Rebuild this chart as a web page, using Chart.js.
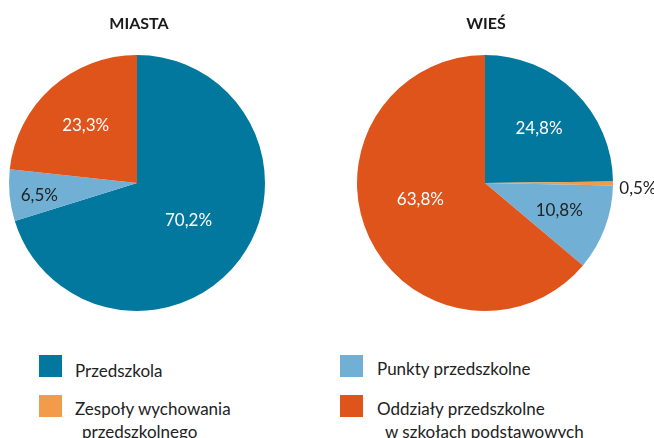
<!DOCTYPE html>
<html><head><meta charset="utf-8">
<script src="https://cdn.jsdelivr.net/npm/chart.js@4/dist/chart.umd.min.js"></script>
<style>
html,body{margin:0;padding:0;background:#fff;}
body{width:654px;height:438px;overflow:hidden;position:relative;font-family:Lato,'Open Sans',sans-serif;}
canvas{position:absolute;top:0;}
.title{position:absolute;top:13px;font-weight:bold;font-size:16px;line-height:20px;color:#1a1a1a;transform:translateX(-50%);white-space:nowrap;}
.lg-box{position:absolute;width:23px;height:22px;}
.lg-text{position:absolute;font-size:17px;line-height:23px;color:#222;white-space:nowrap;}
</style></head><body>
<script>
// ---- data ----
const categories = ['Przedszkola', 'Zespoły wychowania\nprzedszkolnego', 'Punkty przedszkolne', 'Oddziały przedszkolne\nw szkołach podstawowych'];
const panelTitles = ['MIASTA', 'WIEŚ'];
const miastaValues = [70.2, 0, 6.5, 23.3];
const wiesValues = [24.8, 0.5, 10.8, 63.8];

// ---- styles ----
const sliceColors = ['#03789E', '#F19B4B', '#71B0D4', '#DF541A'];
const labelColors = ['#ffffff', '#222222', '#222222', '#ffffff'];

function fmt(v){ return v.toFixed(1).replace('.', ',') + '%'; }

function makePie(left, padding, values, labelRadius, labelShift){
  const c = document.createElement('canvas');
  c.width = 327; c.height = 340;
  c.style.left = left + 'px';
  document.body.appendChild(c);
  const plugin = {
    id: 'sliceLabels',
    afterDatasetsDraw(chart){
      const ctx = chart.ctx;
      const meta = chart.getDatasetMeta(0);
      const data = chart.data.datasets[0].data;
      ctx.save();
      ctx.font = '17px Lato, "Open Sans", sans-serif';
      ctx.textBaseline = 'middle';
      meta.data.forEach((arc, i) => {
        const v = data[i];
        if (!v) return;
        const p = arc.getProps(['x','y','startAngle','endAngle','outerRadius'], true);
        const a = (p.startAngle + p.endAngle) / 2 + (labelShift[i] || 0) * Math.PI / 180;
        const r = p.outerRadius * labelRadius[i];
        ctx.fillStyle = labelColors[i];
        ctx.textAlign = labelRadius[i] > 1 ? 'left' : 'center';
        ctx.fillText(fmt(v), p.x + Math.cos(a) * r, p.y + Math.sin(a) * r);
      });
      ctx.restore();
    }
  };
  new Chart(c, {
    type: 'pie',
    data: { labels: categories, datasets: [{ data: values, backgroundColor: sliceColors, borderWidth: 0, hoverOffset: 0 }] },
    options: {
      responsive: false, devicePixelRatio: 1, animation: false, events: [],
      layout: { padding: padding },
      plugins: { legend: { display: false }, tooltip: { enabled: false }, title: { display: false } }
    },
    plugins: [plugin]
  });
}

makePie(0, {left: 9, top: 55, right: 62, bottom: 29}, miastaValues, [0.5, 0, 0.77, 0.6], [0, 0, -2, 0]);
makePie(327, {left: 30, top: 55, right: 41, bottom: 29}, wiesValues, [0.6, 1.05, 0.62, 0.52], [0, 2, 0, 11]);

// titles
[[139, panelTitles[0]], [486, panelTitles[1]]].forEach(([x, t]) => {
  const d = document.createElement('div');
  d.className = 'title'; d.style.left = x + 'px'; d.textContent = t;
  document.body.appendChild(d);
});

// legend: left column items 0,1 ; right column items 2,3
const legendPos = [
  {bx: 39, by: 355, tx: 75, ty: 359, ind: 7},
  {bx: 39, by: 395, tx: 75, ty: 397, ind: 7},
  {bx: 340, by: 355, tx: 377, ty: 357, ind: 8},
  {bx: 340, by: 395, tx: 377, ty: 397, ind: 8}
];
categories.forEach((name, i) => {
  const p = legendPos[i];
  const b = document.createElement('div');
  b.className = 'lg-box'; b.style.left = p.bx + 'px'; b.style.top = p.by + 'px'; b.style.background = sliceColors[i];
  document.body.appendChild(b);
  const t = document.createElement('div');
  t.className = 'lg-text'; t.style.left = p.tx + 'px'; t.style.top = p.ty + 'px';
  name.split('\n').forEach((line, k) => {
    const l = document.createElement('div');
    l.textContent = line;
    if (k > 0) l.style.marginLeft = p.ind + 'px';
    t.appendChild(l);
  });
  document.body.appendChild(t);
});
</script>
</body></html>
